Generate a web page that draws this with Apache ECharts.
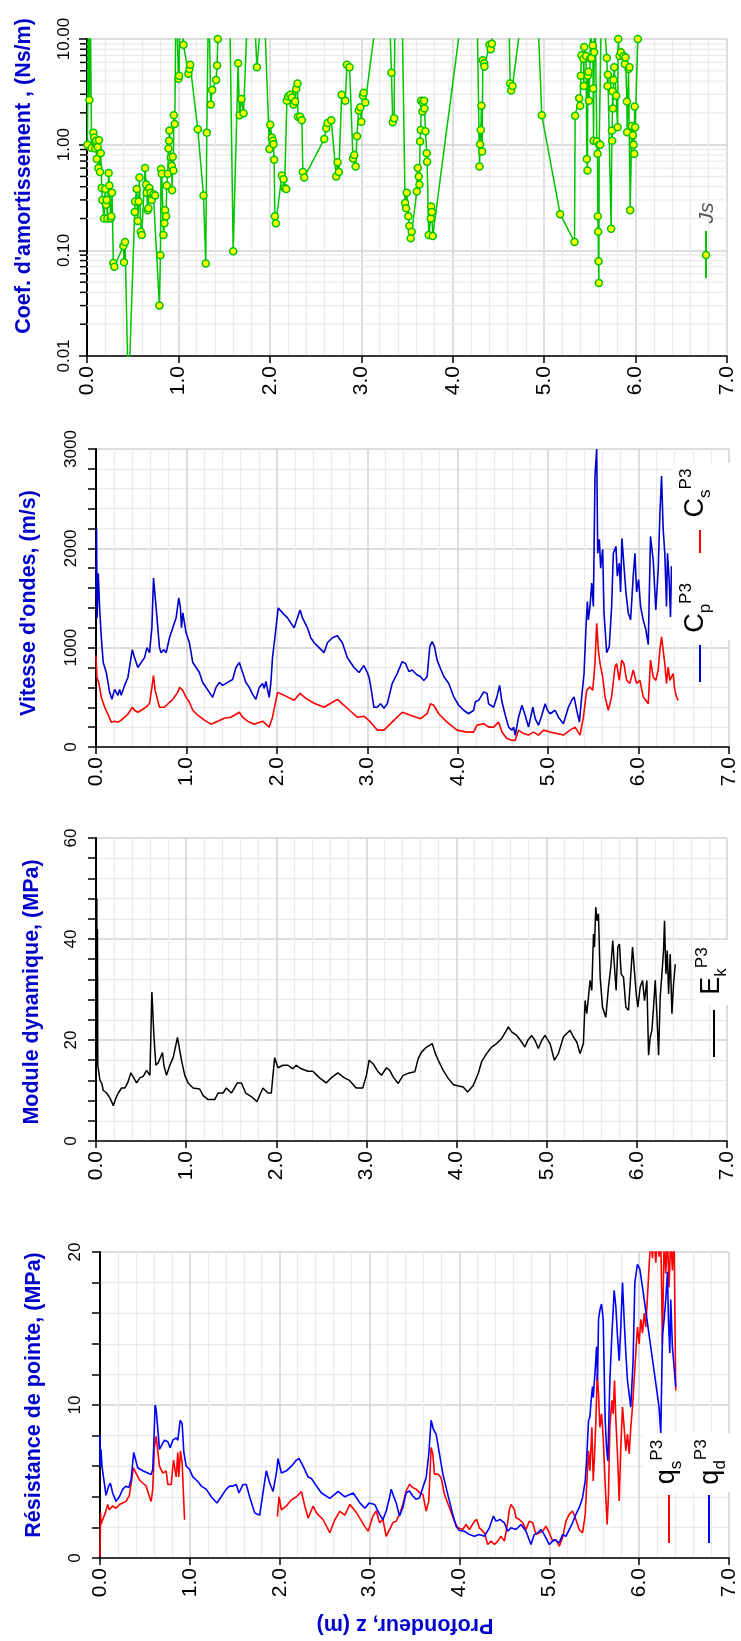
<!DOCTYPE html>
<html><head><meta charset="utf-8">
<script src="https://cdn.jsdelivr.net/npm/echarts@6/dist/echarts.min.js"></script>
<style>html,body{margin:0;padding:0;background:#fff}#c{width:741px;height:1641px}</style>
</head><body><div id="c"></div>
<script>
// ---------- DATA ----------
const jsDepth = [0.005,0.015,0.026,0.035,0.05,0.069,0.08,0.09,0.10,0.106,0.117,0.124,0.131,0.142,0.15,0.161,0.168,0.186,0.20,0.208,0.215,0.223,0.237,0.245,0.259,0.266,0.274,0.288,0.299,0.398,0.405,0.416,0.453,0.522,0.526,0.544,0.555,0.566,0.573,0.588,0.599,0.635,0.646,0.653,0.664,0.672,0.682,0.697,0.708,0.726,0.745,0.792,0.803,0.81,0.818,0.836,0.847,0.854,0.865,0.872,0.883,0.891,0.898,0.901,0.916,0.927,0.931,0.938,0.945,0.949,0.96,0.975,1.0,1.007,1.02,1.055,1.109,1.12,1.128,1.212,1.274,1.299,1.31,1.33,1.354,1.369,1.412,1.423,1.431,1.47,1.558,1.599,1.653,1.668,1.69,1.712,1.766,1.82,1.858,1.931,1.996,2.004,2.022,2.033,2.04,2.047,2.055,2.066,2.131,2.15,2.161,2.179,2.186,2.201,2.223,2.241,2.259,2.277,2.288,2.303,2.307,2.332,2.35,2.361,2.376,2.595,2.617,2.631,2.672,2.726,2.741,2.755,2.785,2.825,2.843,2.872,2.909,2.923,2.938,2.953,2.971,2.989,3.0,3.018,3.026,3.044,3.206,3.30,3.33,3.344,3.359,3.37,3.443,3.479,3.49,3.497,3.515,3.526,3.541,3.552,3.607,3.618,3.629,3.636,3.643,3.651,3.654,3.669,3.673,3.687,3.691,3.702,3.716,3.72,3.738,3.76,3.764,3.771,3.782,4.136,4.263,4.293,4.30,4.307,4.315,4.322,4.329,4.344,4.347,4.402,4.416,4.428,4.44,4.61,4.628,4.639,4.654,4.792,4.92,4.974,5.175,5.332,5.339,5.383,5.394,5.401,5.408,5.43,5.434,5.438,5.459,5.467,5.474,5.478,5.485,5.49,5.503,5.51,5.518,5.532,5.536,5.54,5.547,5.555,5.576,5.584,5.587,5.591,5.595,5.598,5.602,5.613,5.63,5.65,5.686,5.693,5.697,5.733,5.741,5.744,5.748,5.752,5.759,5.766,5.788,5.803,5.81,5.825,5.839,5.868,5.883,5.89,5.905,5.908,5.923,5.934,5.941,5.959,5.97,5.978,5.985,5.99,5.996,6.025];
const jsValue = [1.0,30,2.65,30,0.93,1.3,1.17,0.92,1.09,0.73,0.95,0.6,1.1,0.55,0.83,0.39,0.3,0.2,0.38,0.27,0.3,0.2,0.54,0.41,0.2,0.21,0.35,0.076,0.07,0.11,0.077,0.12,0.004,0.23,0.29,0.38,0.19,0.29,0.49,0.15,0.14,0.6,0.42,0.35,0.24,0.25,0.39,0.35,0.3,0.34,0.33,0.03,0.09,0.59,0.53,0.14,0.18,0.24,0.21,0.41,0.53,0.92,1.09,1.36,0.76,0.63,0.37,0.77,0.57,1.9,1.57,30,4.2,4.5,30,8.8,4.7,5.2,5.7,1.4,0.33,0.075,1.3,30,2.4,3.3,4.1,5.6,10.0,30,30,0.098,5.9,1.9,2.7,1.98,30,30,5.4,30,0.91,1.54,1.17,1.09,1.01,0.72,0.21,0.18,0.51,0.47,0.39,0.38,2.6,2.85,2.96,2.8,2.4,2.56,3.37,3.8,1.84,1.84,1.7,0.55,0.49,1.13,1.43,1.6,1.7,0.5,0.68,0.55,2.96,2.6,5.7,5.4,0.74,0.8,0.62,1.2,2.1,2.26,1.65,2.9,3.1,2.5,30,30,4.8,1.63,1.78,30,30,0.28,0.25,0.35,0.21,0.17,0.13,0.15,0.36,0.6,0.5,0.42,1.07,1.38,2.6,2.06,2.5,2.6,2.2,1.34,0.83,0.69,0.14,0.2,0.26,0.23,0.137,30,30,0.62,1.01,1.38,2.34,0.86,6.3,5.9,5.5,8.8,8.0,9.0,30,30,3.8,3.25,3.6,30,30,1.9,0.22,0.12,1.88,2.75,2.34,4.5,7.0,6.5,3.6,8.4,6.9,0.73,0.57,4.5,4.9,2.6,6.5,30,6.6,8.7,3.4,1.09,7.5,30,1.07,0.82,0.21,0.15,0.079,0.049,1.0,1.0,30,30,6.6,3.6,4.6,0.16,1.36,1.09,3.2,2.2,4.1,5.4,2.9,1.46,10.0,6.9,7.5,6.9,5.8,6.7,2.56,1.31,5.2,5.4,0.24,1.5,1.23,1.0,0.82,2.3,1.46,10.0];

const cpDepth = [0.0,0.006,0.012,0.025,0.04,0.059,0.08,0.096,0.114,0.151,0.176,0.206,0.243,0.261,0.279,0.316,0.353,0.401,0.426,0.463,0.5,0.537,0.563,0.592,0.618,0.636,0.665,0.702,0.72,0.75,0.776,0.813,0.849,0.886,0.915,0.934,0.945,0.96,0.996,1.033,1.07,1.107,1.143,1.18,1.254,1.29,1.327,1.364,1.401,1.456,1.511,1.548,1.585,1.621,1.658,1.695,1.732,1.768,1.805,1.842,1.86,1.879,1.915,1.934,1.952,1.978,2.015,2.063,2.118,2.154,2.191,2.228,2.257,2.283,2.338,2.375,2.412,2.467,2.522,2.559,2.614,2.669,2.724,2.779,2.816,2.853,2.908,2.963,3.0,3.02,3.04,3.074,3.11,3.147,3.184,3.221,3.276,3.331,3.386,3.423,3.46,3.496,3.551,3.588,3.625,3.662,3.691,3.717,3.743,3.772,3.809,3.846,3.901,3.956,4.011,4.066,4.121,4.176,4.195,4.232,4.287,4.324,4.342,4.397,4.434,4.463,4.489,4.526,4.563,4.599,4.618,4.636,4.673,4.71,4.746,4.783,4.831,4.857,4.893,4.93,4.967,4.993,5.022,5.077,5.114,5.169,5.224,5.261,5.287,5.316,5.346,5.371,5.397,5.419,5.434,5.445,5.463,5.482,5.5,5.518,5.537,5.548,5.566,5.581,5.603,5.618,5.647,5.676,5.702,5.721,5.75,5.765,5.787,5.801,5.816,5.838,5.86,5.886,5.912,5.941,5.96,5.978,6.0,6.022,6.051,6.081,6.107,6.132,6.162,6.191,6.217,6.235,6.254,6.272,6.29,6.309,6.32,6.338,6.353,6.364,6.382,6.393];
const cpValue = [1500,2200,1300,1750,1400,1100,850,850,750,550,480,580,520,580,520,620,700,980,900,800,850,900,1000,950,1200,1700,1400,1000,950,980,950,1100,1200,1300,1500,1400,1200,1350,1150,1050,850,800,750,650,550,500,600,650,620,650,680,800,850,750,650,600,530,480,600,640,590,660,500,650,900,1100,1400,1350,1300,1250,1200,1300,1380,1300,1200,1100,1050,1000,950,1050,1100,1120,1050,900,850,800,750,820,750,700,600,400,400,435,390,435,640,740,860,840,760,775,725,710,670,710,1010,1060,1010,875,790,710,640,505,420,370,335,370,455,470,555,540,435,400,505,620,455,320,200,170,200,118,300,420,320,200,400,285,220,320,435,370,335,370,300,235,400,470,505,370,250,505,740,1215,1465,1280,1415,1650,1415,2727,3000,1950,2090,1800,1990,1350,950,1010,1415,1950,2020,1720,1850,1560,2100,2090,1560,1350,1280,1720,1950,1560,1685,1415,1280,1180,1030,2120,1880,1380,1785,2325,2727,2190,1950,1415,1950,1685,1310,1820,1750,1820];

const csDepth = [0.0,0.01,0.03,0.059,0.096,0.132,0.169,0.188,0.206,0.243,0.279,0.316,0.353,0.401,0.426,0.463,0.518,0.563,0.592,0.618,0.636,0.654,0.702,0.757,0.813,0.849,0.904,0.923,0.96,0.996,1.033,1.07,1.125,1.199,1.272,1.346,1.419,1.493,1.585,1.621,1.676,1.75,1.842,1.915,1.952,2.007,2.081,2.191,2.257,2.32,2.412,2.522,2.596,2.669,2.743,2.816,2.89,2.963,3.037,3.11,3.184,3.257,3.331,3.386,3.478,3.588,3.662,3.699,3.735,3.79,3.882,3.993,4.103,4.176,4.213,4.287,4.342,4.397,4.452,4.489,4.544,4.599,4.636,4.673,4.728,4.783,4.838,4.893,4.949,5.022,5.096,5.169,5.243,5.298,5.353,5.39,5.426,5.463,5.493,5.518,5.537,5.555,5.574,5.603,5.629,5.665,5.702,5.739,5.757,5.787,5.813,5.838,5.868,5.904,5.941,5.978,6.015,6.051,6.107,6.132,6.162,6.191,6.217,6.235,6.254,6.272,6.29,6.309,6.327,6.346,6.364,6.382,6.401,6.419,6.438];
const csValue = [920,700,650,500,400,330,250,230,260,250,270,300,330,400,370,350,380,410,440,600,720,570,400,400,450,480,550,600,570,500,450,370,320,270,230,260,290,300,350,300,260,230,260,200,300,550,520,470,540,490,440,400,440,480,420,360,300,310,250,170,170,235,300,350,320,285,335,435,420,335,250,170,150,150,220,235,200,200,250,150,85,67,67,170,135,120,150,120,170,150,135,120,170,200,120,300,570,605,570,840,1245,975,840,705,505,370,505,805,840,670,875,840,670,640,775,640,670,505,435,875,705,670,775,975,1110,975,840,640,805,670,705,740,570,505,470];

const ekDepth = [0.0,0.003,0.006,0.009,0.012,0.016,0.02,0.044,0.063,0.081,0.118,0.155,0.192,0.221,0.247,0.284,0.321,0.351,0.387,0.45,0.487,0.524,0.561,0.598,0.62,0.642,0.664,0.69,0.738,0.753,0.782,0.819,0.856,0.904,0.948,0.985,1.022,1.077,1.151,1.188,1.244,1.317,1.354,1.41,1.446,1.502,1.568,1.613,1.661,1.723,1.786,1.815,1.852,1.908,1.945,1.963,1.982,2.018,2.074,2.129,2.184,2.221,2.277,2.351,2.406,2.48,2.554,2.609,2.683,2.756,2.812,2.886,2.959,3.0,3.03,3.074,3.13,3.167,3.222,3.259,3.296,3.352,3.407,3.463,3.537,3.574,3.611,3.667,3.704,3.73,3.759,3.796,3.852,3.907,3.963,4.019,4.074,4.122,4.185,4.241,4.278,4.333,4.389,4.444,4.5,4.544,4.574,4.611,4.667,4.722,4.759,4.789,4.833,4.87,4.907,4.944,4.981,5.037,5.085,5.13,5.185,5.222,5.259,5.296,5.333,5.37,5.407,5.426,5.444,5.463,5.481,5.5,5.519,5.53,5.544,5.559,5.574,5.593,5.619,5.656,5.685,5.711,5.733,5.752,5.77,5.789,5.807,5.826,5.852,5.878,5.907,5.933,5.952,5.97,5.993,6.011,6.037,6.063,6.085,6.111,6.13,6.148,6.167,6.185,6.204,6.222,6.241,6.259,6.278,6.296,6.307,6.322,6.337,6.352,6.37,6.389,6.407,6.426];
const ekValue = [40,49.5,20,48,25,42,15,12,11.5,10,9.5,8.5,7,8.5,9.5,10.5,10.5,11.5,13.5,11.5,12.5,12.8,14,13,29.5,21,15,15.5,17.5,15,13,15,16.5,20.5,16,13,11.5,10.5,10.3,9,8.2,8.2,9.5,9.5,10.5,9.5,11.5,11.5,9.5,8.8,7.8,9,10.5,9.5,9.5,13,16.5,14.5,15,15,14.3,15,14.3,13.8,13.8,12.5,11.5,12.5,13.5,12.5,12,10.5,10.5,13,16,15.3,13.7,13,14.5,14,12.7,11.4,13,13.4,13.7,16.3,17.6,18.6,19,19.3,17.6,16,14,12.4,11.2,10.9,10.7,9.7,11,13.4,15.7,17.3,18.6,19.3,20.3,21.6,22.6,21.6,20.9,19.6,18.6,19.9,20.9,19.9,18.3,19.9,20.9,19.3,16,17.3,20.6,21.3,21.9,20.6,19.6,17.3,19.3,27.8,25.2,28.5,31.8,29.8,41,38.4,46.3,43.6,45,32.4,26.5,24.5,30.5,34.4,39.7,34.4,29.8,38.4,39,33.1,32.4,26.5,25.9,33.1,38.4,34.4,29.1,26.5,30.5,31.8,27.8,31.8,17,20.6,21.9,26.5,31.8,25.2,17,28.5,33.1,37.7,43.6,33.1,37.7,29.1,37,25.2,31.1,35];

const qdDepth = [0.0,0.004,0.011,0.022,0.048,0.067,0.097,0.115,0.141,0.178,0.216,0.253,0.29,0.32,0.346,0.375,0.39,0.42,0.476,0.532,0.569,0.587,0.599,0.613,0.625,0.662,0.68,0.717,0.755,0.781,0.81,0.848,0.866,0.892,0.914,0.933,0.959,0.996,1.033,1.089,1.126,1.182,1.238,1.301,1.349,1.405,1.442,1.48,1.517,1.546,1.591,1.628,1.665,1.721,1.777,1.825,1.851,1.888,1.926,1.963,1.981,2.019,2.074,2.13,2.186,2.216,2.26,2.316,2.353,2.409,2.465,2.558,2.651,2.725,2.818,2.892,2.948,2.996,3.056,3.111,3.148,3.185,3.222,3.241,3.267,3.296,3.333,3.37,3.407,3.444,3.481,3.519,3.556,3.593,3.63,3.659,3.685,3.711,3.741,3.778,3.815,3.852,3.889,3.926,3.963,4.0,4.056,4.111,4.167,4.222,4.278,4.333,4.378,4.407,4.452,4.5,4.537,4.574,4.63,4.685,4.741,4.796,4.833,4.87,4.907,4.944,5.0,5.056,5.111,5.148,5.185,5.222,5.259,5.296,5.333,5.37,5.4,5.415,5.437,5.452,5.463,5.481,5.489,5.511,5.526,5.537,5.548,5.563,5.581,5.6,5.622,5.637,5.652,5.674,5.696,5.722,5.741,5.759,5.778,5.796,5.815,5.833,5.852,5.87,5.889,5.907,5.933,5.952,5.981,6.007,6.03,6.222,6.241,6.259,6.278,6.296,6.315,6.326,6.341,6.352,6.37,6.389,6.407];
const qdValue = [8.0,6.0,7.1,6.0,4.9,4.1,4.7,4.9,4.25,3.7,4.0,4.5,4.7,4.6,5.1,6.9,7.0,5.9,5.7,5.55,5.45,5.8,7.5,10,9.7,7.1,7.3,7.7,7.6,7.2,7.7,7.85,7.7,9.0,8.8,6.9,6.0,5.8,5.3,5.0,4.7,4.5,4.0,3.6,4.0,4.5,4.7,4.7,4.8,4.25,4.8,4.8,4.0,2.95,2.8,4.7,5.7,4.9,4.35,5.55,6.5,5.55,5.7,6.0,6.4,6.5,6.0,5.3,5.2,4.7,4.25,3.9,4.35,4.0,4.25,3.6,3.25,3.6,3.5,2.85,2.5,3.07,3.94,4.5,4.05,3.6,2.74,3.29,4.27,4.38,4.05,3.83,3.94,4.6,5.26,6.8,9.0,8.4,8.1,6.8,5.5,4.6,3.72,2.85,2.08,1.8,1.75,1.53,1.42,1.53,1.42,1.97,2.74,2.41,2.52,2.3,1.75,1.97,1.86,2.19,1.75,0.88,1.53,1.64,1.86,1.53,0.88,1.2,0.99,1.53,1.42,1.86,2.3,2.85,3.29,3.94,5.04,6.35,9.0,9.2,10.1,11.2,10.5,12.3,13.8,11.6,15.6,16.2,16.6,15.6,9.0,7.2,6.35,11.6,14.5,17.5,16.4,14.5,12.9,15.1,18,15.6,13.4,11.6,10.7,9.86,12.9,18,19.2,18.9,18,9.86,8.1,14.5,15.6,16.9,18.7,15.6,13.4,16.9,13.8,12.5,11.2];

const qsDepth = [0.0,0.007,0.011,0.03,0.059,0.086,0.104,0.141,0.178,0.216,0.253,0.29,0.327,0.372,0.401,0.439,0.476,0.513,0.55,0.569,0.587,0.606,0.625,0.662,0.699,0.736,0.755,0.792,0.818,0.848,0.866,0.877,0.896,0.914,0.941,1.5,1.974,1.993,2.019,2.074,2.13,2.186,2.242,2.279,2.316,2.372,2.409,2.483,2.558,2.613,2.669,2.725,2.781,2.855,2.948,2.985,3.037,3.074,3.111,3.148,3.185,3.222,3.259,3.296,3.333,3.37,3.407,3.444,3.481,3.519,3.556,3.593,3.63,3.659,3.685,3.704,3.722,3.759,3.796,3.833,3.889,3.944,3.981,4.037,4.074,4.111,4.167,4.193,4.222,4.278,4.315,4.352,4.389,4.426,4.463,4.5,4.537,4.556,4.574,4.611,4.63,4.667,4.704,4.741,4.778,4.815,4.852,4.889,4.926,4.963,5.0,5.037,5.074,5.111,5.148,5.185,5.222,5.259,5.296,5.333,5.37,5.4,5.415,5.437,5.452,5.474,5.489,5.504,5.519,5.533,5.548,5.563,5.581,5.6,5.622,5.644,5.659,5.674,5.696,5.711,5.726,5.741,5.759,5.778,5.796,5.815,5.833,5.852,5.87,5.889,5.907,5.926,5.944,5.963,5.981,6.0,6.019,6.037,6.056,6.074,6.093,6.111,6.13,6.148,6.167,6.185,6.204,6.222,6.241,6.259,6.278,6.296,6.315,6.333,6.352,6.37,6.389,6.407];
const qsValue = [0.1,2.95,2.2,2.2,2.95,3.5,3.15,3.4,3.25,3.5,3.6,3.7,4.1,5.9,5.55,5.1,4.9,4.7,4.0,3.7,4.5,7.3,7.95,6.0,5.55,5.7,4.8,4.8,6.4,5.3,6.9,5.3,7.0,6.2,2.5,null,2.7,4.0,3.15,3.4,3.8,4.0,4.35,3.4,2.6,3.4,2.95,2.5,1.65,2.5,3.05,2.8,3.5,2.95,2.05,1.75,2.74,3.07,2.3,2.52,1.42,1.86,2.3,2.41,2.85,3.5,4.38,4.82,4.6,4.5,4.27,4.16,3.07,3.72,7.23,6.8,5.48,5.48,5.26,4.16,3.29,2.41,1.97,1.86,2.19,1.86,2.41,2.52,1.97,1.64,0.88,1.1,0.88,1.1,1.42,1.1,2.3,3.18,3.5,3.18,2.63,2.52,2.3,1.86,2.41,2.3,1.53,1.64,1.75,2.08,1.64,1.1,1.2,0.77,1.31,2.41,2.85,3.07,2.52,1.86,1.64,2.85,4.6,7.0,5.7,8.54,5.04,6.8,8.98,12.05,10.7,8.54,9.42,7.89,4.82,2.19,4.16,8.54,10.3,9.42,11.6,8.98,6.8,3.72,7.23,9.86,8.54,7.0,8.1,6.8,8.54,9.86,11.6,13.4,15.1,14.0,15.6,14.7,16.0,15.1,17.1,19.1,21,19.6,21,19.3,21,19.7,21,14,21,18.6,21,17.7,21,18.8,21,10.95];

const logMinorTicks = [0.02,0.03,0.04,0.05,0.06,0.07,0.08,0.09,0.2,0.3,0.4,0.5,0.6,0.7,0.8,0.9,2,3,4,5,6,7,8,9];

// ---------- CHART ----------
const FONT = '"Liberation Sans", Arial, Helvetica, sans-serif';
const pair = (xs, ys) => xs.map((x, i) => [x, ys[i] === null ? '-' : ys[i]]);
const MAJ = '#d2d2d2', MIN = '#ebebeb';

function xAx(gi) {
  return { gridIndex: gi, type: 'value', min: 0, max: 7, interval: 1,
    axisLine: { show: true, onZero: false, lineStyle: { color: '#000', width: 1.5 } },
    axisTick: { show: true, length: 7, lineStyle: { color: '#000', width: 1.5 } },
    minorTick: { show: false, splitNumber: 5 },
    splitLine: { show: true, lineStyle: { color: MAJ, width: 1.5 } },
    minorSplitLine: { show: true, lineStyle: { color: MIN, width: 1.3 } },
    axisLabel: { rotate: 90, margin: 10, fontSize: 21, color: '#000', fontFamily: FONT,
      formatter: v => v.toFixed(1) } };
}
function yAx(gi, min, max, interval) {
  return { gridIndex: gi, type: 'value', min: min, max: max, interval: interval,
    axisLine: { show: true, onZero: false, lineStyle: { color: '#000', width: 2 } },
    axisTick: { show: true, length: 8, lineStyle: { color: '#000', width: 1.5 } },
    minorTick: { show: true, splitNumber: 5, length: 8, lineStyle: { color: '#000', width: 1.5 } },
    splitLine: { show: true, lineStyle: { color: MAJ, width: 1.5 } },
    minorSplitLine: { show: true, lineStyle: { color: MIN, width: 1.3 } },
    axisLabel: { rotate: 90, margin: 16, fontSize: 17, color: '#000', fontFamily: FONT,
      formatter: v => String(v) } };
}

const yLog = { gridIndex: 0, type: 'log', logBase: 10, min: 0.01, max: 10,
  axisLine: { show: true, onZero: false, lineStyle: { color: '#000', width: 2 } },
  axisTick: { show: true, length: 8, lineStyle: { color: '#000', width: 1.5 } },
  splitLine: { show: true, lineStyle: { color: MAJ, width: 1.5 } },
  axisLabel: { rotate: 90, margin: 14, fontSize: 17, color: '#000', fontFamily: FONT,
    formatter: v => Number(v).toFixed(2) } };

const BLUE_T = '#0000cc';
function title(text, x, y, rot) {
  return { type: 'text', x: x, y: y, rotation: rot, z: 100,
    style: { text: text, fill: BLUE_T, fontSize: 21.5, fontWeight: 'bold', fontFamily: FONT,
      textAlign: 'center', textVerticalAlign: 'middle', align: 'center', verticalAlign: 'middle' } };
}
function legText(main, sub, x, y) {
  return { type: 'text', x: x, y: y, rotation: Math.PI / 2, z: 101,
    style: { text: '{m|' + main + '}{b|' + sub + '}{t|P3}',
      textAlign: 'center', textVerticalAlign: 'middle', align: 'center', verticalAlign: 'middle',
      rich: {
        m: { fontSize: 27, fontFamily: FONT, fill: '#000', lineHeight: 36 },
        b: { fontSize: 17, fontFamily: FONT, fill: '#000', verticalAlign: 'bottom', lineHeight: 36 },
        t: { fontSize: 17, fontFamily: FONT, fill: '#000', verticalAlign: 'top', lineHeight: 36 }
      } } };
}
function vline(x, y1, y2, color) {
  return { type: 'line', z: 101, shape: { x1: x, y1: y1, x2: x, y2: y2 },
    style: { stroke: color, lineWidth: 2 } };
}
function wrect(x, y, w, h) {
  return { type: 'rect', z: 100, shape: { x: x, y: y, width: w, height: h }, style: { fill: '#fff' } };
}

const lineS = (xi, xs, ys, color, w) => ({ type: 'line', xAxisIndex: xi, yAxisIndex: xi,
  data: pair(xs, ys), showSymbol: false, symbol: 'none', connectNulls: false, clip: true,
  lineStyle: { color: color, width: w }, itemStyle: { color: color }, z: 3, animation: false });

const option = {
  animation: false,
  backgroundColor: '#fff',
  grid: [
    { left: 87, top: 39, width: 640, height: 317 },
    { left: 96, top: 449, width: 633, height: 298 },
    { left: 96, top: 838, width: 631, height: 303 },
    { left: 100, top: 1252, width: 629, height: 306 }
  ],
  xAxis: [xAx(0), xAx(1), xAx(2), xAx(3)],
  yAxis: [yLog, yAx(1, 0, 3000, 1000), yAx(2, 0, 60, 20), yAx(3, 0, 20, 10)],
  series: [
    { type: 'custom', xAxisIndex: 0, yAxisIndex: 0, silent: true, z: 1, clip: false,
      data: logMinorTicks.map(v => [0, v]),
      renderItem: (params, api) => {
        const v = api.value(1);
        const p0 = api.coord([0, v]), p1 = api.coord([7, v]);
        return { type: 'group', children: [
          { type: 'line', shape: { x1: p0[0], y1: p0[1], x2: p1[0], y2: p1[1] }, style: { stroke: MIN, lineWidth: 1.3 } },
          { type: 'line', shape: { x1: p0[0] - 7, y1: p0[1], x2: p0[0], y2: p0[1] }, style: { stroke: '#000', lineWidth: 1.5 } }
        ] };
      } },
    { type: 'line', name: 'Js', xAxisIndex: 0, yAxisIndex: 0, data: pair(jsDepth, jsValue), clip: true,
      symbol: 'circle', symbolSize: 7, showSymbol: true,
      lineStyle: { color: '#00c400', width: 1.5 },
      itemStyle: { color: '#ffff00', borderColor: '#00c400', borderWidth: 1.5 }, z: 3 },
    lineS(1, cpDepth, cpValue, '#0000cc', 1.6),
    lineS(1, csDepth, csValue, '#ff0000', 1.6),
    lineS(2, ekDepth, ekValue, '#000000', 1.5),
    lineS(3, qsDepth, qsValue, '#ff0000', 1.6),
    lineS(3, qdDepth, qdValue, '#0000ff', 1.6)
  ],
  graphic: [
    title("Coef. d'amortissement , (Ns/m)", 24, 176, Math.PI / 2),
    title("Vitesse d'ondes, (m/s)", 29, 603, Math.PI / 2),
    title('Module dynamique, (MPa)', 32, 992, Math.PI / 2),
    title('Résistance de pointe, (MPa)', 34, 1395, Math.PI / 2),
    title('Profondeur, z (m)', 405, 1625, Math.PI),
    // Js legend
    vline(706, 231, 278, '#00c400'),
    { type: 'circle', z: 102, shape: { cx: 706, cy: 255, r: 3.5 }, style: { fill: '#ffff00', stroke: '#00c400', lineWidth: 1.5 } },
    { type: 'text', x: 707, y: 213, rotation: Math.PI / 2, z: 101,
      style: { text: 'Js', fill: '#555', fontSize: 21, fontStyle: 'italic', fontFamily: FONT,
        textAlign: 'center', textVerticalAlign: 'middle', align: 'center', verticalAlign: 'middle' } },
    // panel 2 legend
    wrect(672, 463, 66, 177),
    vline(700, 645, 682, '#0000cc'),
    legText('C', 'p', 696, 608),
    vline(700, 530, 553, '#ff0000'),
    legText('C', 's', 696, 493),
    // panel 3 legend
    wrect(695, 940, 46, 65),
    vline(714, 1010, 1057, '#000'),
    legText('E', 'k', 712, 971),
    // panel 4 legend
    wrect(643, 1433, 98, 59),
    vline(669, 1495, 1543, '#ff0000'),
    legText('q', 's', 667, 1462),
    vline(709, 1495, 1543, '#0000ff'),
    legText('q', 'd', 711, 1462)
  ]
};

const chart = echarts.init(document.getElementById('c'), null, { renderer: 'canvas' });
chart.setOption(option);
</script>
</body></html>
